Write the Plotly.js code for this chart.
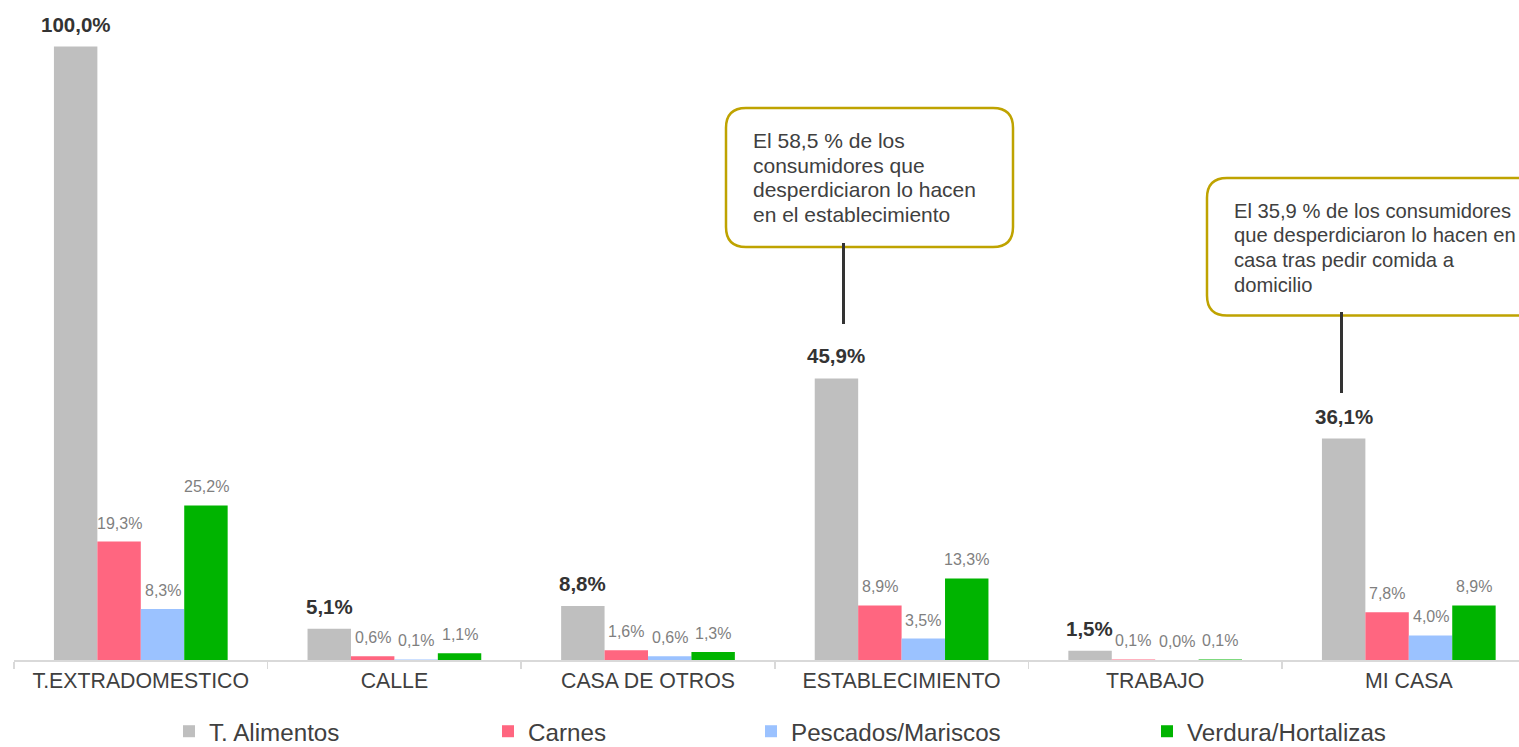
<!DOCTYPE html>
<html>
<head>
<meta charset="utf-8">
<script src="https://cdn.plot.ly/plotly-3.0.1.min.js"></script>
<style>
  html, body { margin: 0; padding: 0; overflow: hidden; background: #fff; }
  #chart { width: 1519px; height: 747px; }
</style>
</head>
<body>
<div id="chart"></div>
<script>
// ---- data ----
const categories = ['T.EXTRADOMESTICO', 'CALLE', 'CASA DE OTROS', 'ESTABLECIMIENTO', 'TRABAJO', 'MI CASA'];
const seriesNames = ['T. Alimentos', 'Carnes', 'Pescados/Mariscos', 'Verdura/Hortalizas'];
const alimentos = [100.0, 5.1, 8.8, 45.9, 1.5, 36.1];
const carnes    = [19.3, 0.6, 1.6, 8.9, 0.1, 7.8];
const pescados  = [8.3, 0.1, 0.6, 3.5, 0.0, 4.0];
const verdura   = [25.2, 1.1, 1.3, 13.3, 0.1, 8.9];
const calloutLines = [
  ['El 58,5 % de los', 'consumidores que', 'desperdiciaron lo hacen', 'en el establecimiento'],
  ['El 35,9 % de los consumidores', 'que desperdiciaron lo hacen en', 'casa tras pedir comida a', 'domicilio']
];

// ---- styles ----
const seriesValues = [alimentos, carnes, pescados, verdura];
const colors = ['#BFBFBF', '#FF6680', '#9BC2FF', '#00B400'];
const FONT = 'Liberation Sans, Arial, Helvetica, sans-serif';
const W = 1519, H = 747;
const M = { l: 14, r: 0, t: 0, b: 87, autoexpand: false };
const PW = W - M.l - M.r, PH = H - M.t - M.b;
const px = x => (x - M.l) / PW;
const py = y => (PH + M.t - y) / PH;
const fmt = v => v.toFixed(1).replace('.', ',') + '%';

const groupPx = 253.6;
const xMax = -0.5 + PW / groupPx;
const barPx = 43.5;

const legendIds = ['legend', 'legend2', 'legend3', 'legend4'];
const traces = seriesValues.map((vals, i) => ({
  type: 'bar',
  name: seriesNames[i],
  x: categories,
  y: vals,
  marker: { color: colors[i], line: { width: 0 } },
  legend: legendIds[i],
  hoverinfo: 'skip'
}));

// value labels
const annotations = [];
seriesValues.forEach((vals, i) => {
  vals.forEach((v, j) => {
    const bold = i === 0;
    annotations.push({
      x: categories[j], y: v, xref: 'x', yref: 'y',
      xshift: (i - 1.5) * barPx,
      yanchor: 'bottom', yshift: bold ? 9 : 8,
      showarrow: false,
      text: bold ? '<b>' + fmt(v) + '</b>' : fmt(v),
      font: { family: FONT, size: bold ? 20.5 : 16, color: bold ? '#333333' : '#7F7F7F' }
    });
  });
});

// callout boxes
const boxes = [
  { x0: 726, x1: 1013, y0: 108, y1: 247, tx: 751, lx: 843.5, ly0: 243, ly1: 324, fs: 21 },
  { x0: 1207, x1: 1545, y0: 178, y1: 315.5, tx: 1232, lx: 1341.5, ly0: 312, ly1: 393, fs: 20.2 }
];
const lineStep = 24.7;
const shapes = [];
const rpx = 20;
boxes.forEach((b, k) => {
  const X0 = px(b.x0), X1 = px(b.x1), YT = py(b.y0), YB = py(b.y1);
  const rx = rpx / PW, ry = rpx / PH;
  const path = `M${X0 + rx},${YT} L${X1 - rx},${YT} Q${X1},${YT} ${X1},${YT - ry} ` +
               `L${X1},${YB + ry} Q${X1},${YB} ${X1 - rx},${YB} ` +
               `L${X0 + rx},${YB} Q${X0},${YB} ${X0},${YB + ry} ` +
               `L${X0},${YT - ry} Q${X0},${YT} ${X0 + rx},${YT} Z`;
  shapes.push({ type: 'path', xref: 'paper', yref: 'paper', path: path,
    line: { color: '#BFA300', width: 2.5 }, fillcolor: 'rgba(255,255,255,1)', layer: 'above' });
  shapes.push({ type: 'line', xref: 'paper', yref: 'paper',
    x0: px(b.lx), x1: px(b.lx), y0: py(b.ly0), y1: py(b.ly1),
    line: { color: '#333333', width: 3 }, layer: 'above' });
  calloutLines[k].forEach((ln, li) => {
    annotations.push({
      xref: 'paper', yref: 'paper', x: px(b.tx), y: py(b.y0 + 32.5 + li * lineStep),
      xanchor: 'left', yanchor: 'middle', align: 'left', showarrow: false,
      text: ln,
      font: { family: FONT, size: b.fs, color: '#404040' }
    });
  });
});

// legends
const legendLeft = [169, 488, 751, 1147];
const layout = {
  width: W, height: H,
  margin: M,
  paper_bgcolor: '#ffffff', plot_bgcolor: '#ffffff',
  barmode: 'group',
  bargap: 0.315, bargroupgap: 0,
  font: { family: FONT, color: '#404040' },
  xaxis: {
    type: 'category', range: [-0.5, xMax], fixedrange: true, automargin: false,
    showline: true, linecolor: '#D9D9D9', linewidth: 2,
    ticks: 'outside', tickson: 'boundaries', ticklen: 7, tickcolor: '#D9D9D9', tickwidth: 1.5,
    showgrid: false, zeroline: false,
    tickfont: { family: FONT, size: 21.3, color: '#404040' }
  },
  yaxis: { visible: false, range: [0, 107.6], showgrid: false, zeroline: false, fixedrange: true, automargin: false },
  annotations: annotations,
  shapes: shapes,
  showlegend: true
};
legendIds.forEach((id, i) => {
  layout[id] = {
    orientation: 'h', xref: 'paper', yref: 'paper',
    x: px(legendLeft[i]), xanchor: 'left',
    y: py(731.5), yanchor: 'middle',
    bgcolor: 'rgba(0,0,0,0)', borderwidth: 0,
    font: { family: FONT, size: 24.2, color: '#404040' }
  };
});

Plotly.newPlot('chart', traces, layout, { staticPlot: true, displayModeBar: false });
</script>
</body>
</html>
